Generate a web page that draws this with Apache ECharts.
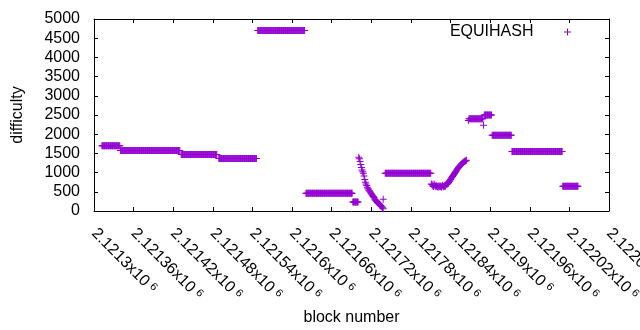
<!DOCTYPE html>
<html>
<head>
<meta charset="utf-8">
<script src="https://cdn.jsdelivr.net/npm/echarts@6/dist/echarts.min.js"></script>
<style>
    body {margin: 0; background: #fff;}
    #main {width: 640px; height: 330px;}
</style>
</head>
<body>
<div id="main"></div>
<script>
    var blockBase = 2121300;
    /*flat stretches: first block, last block (offset from blockBase), difficulty*/
    var runStart = [12, 40, 132, 189, 248, 321, 392, 441, 568, 591, 603, 633, 710];
    var runEnd   = [39, 130, 186, 246, 319, 391, 400, 510, 589, 602, 632, 709, 733];
    var runValue = [1700, 1575, 1470, 1370, 4700, 465, 235, 985, 2400, 2500, 1975, 1550, 645];
    /*the drop after the 235 stretch, one value per block from curveStart*/
    var curveStart = 401;
    var curveValues = [1400, 1360, 1290, 1210, 1130, 1070, 1020, 980, 910, 820,
        750, 700, 665, 620, 580, 550, 525, 500, 475, 450,
        420, 395, 375, 350, 315, 285, 265, 245, 230, 210,
        195, 180, 160, 145, 125, 110, 85, 60];
    /*the dip and the climb back, one value per block from dipStart*/
    var dipStart = 511;
    var dipValues = [700, 690, 660, 640, 700, 670, 650, 630, 660, 640,
        620, 650, 630, 660, 640, 620, 650, 670, 640, 630,
        660, 640, 680, 700, 700, 715, 740, 765, 790, 820,
        850, 875, 900, 925, 950, 975, 1000, 1030, 1060, 1085,
        1110, 1130, 1150, 1170, 1190, 1210, 1230, 1245, 1260, 1275,
        1290, 1300, 1310, 1320];
    /*single blocks off the stretches*/
    var strayBlocks = [438, 567, 590];
    var strayValues = [305, 2360, 2230];
    /*x tick labels, mantissa and power of ten*/
    var xTickLabels = ['2.1213', '2.12136', '2.12142', '2.12148', '2.12154', '2.1216', '2.12166',
        '2.12172', '2.12178', '2.12184', '2.1219', '2.12196', '2.12202', '2.12208'];
    var xTickPower = '6';

    var xMin = 2121300, xMax = 2122080, xStep = 60;
    var font = 'Liberation Sans';
    var plus = 'path://M3,0H4V3H7V4H4V7H3V4H0V3H3Z';

    function buildPoints() {
        var pts = [];
        for (var i = 0; i < runStart.length; i++) {
            for (var b = runStart[i]; b <= runEnd[i]; b++) {
                pts.push([blockBase + b, runValue[i]]);
            }
        }
        for (var j = 0; j < curveValues.length; j++) {
            pts.push([blockBase + curveStart + j, curveValues[j]]);
        }
        for (var k = 0; k < dipValues.length; k++) {
            pts.push([blockBase + dipStart + k, dipValues[k]]);
        }
        for (var s = 0; s < strayBlocks.length; s++) {
            pts.push([blockBase + strayBlocks[s], strayValues[s]]);
        }
        return pts;
    }

    var blackLine = {show: true, onZero: false, lineStyle: {color: '#000', width: 1}};
    var innerTick = {show: true, inside: true, length: 4, lineStyle: {color: '#000', width: 1}};

    var myChart = echarts.init(document.getElementById('main'));
    var option = {
        animation: false,
        backgroundColor: '#fff',
        grid: {left: 94, right: 31, top: 19, bottom: 119, containLabel: false, outerBoundsMode: 'none'},
        legend: {
            right: 64,
            top: 19,
            align: 'right',
            icon: plus,
            itemWidth: 58,
            itemHeight: 7,
            symbolKeepAspect: true,
            textStyle: {fontFamily: font, fontSize: 16, color: '#000'},
            data: ['EQUIHASH']
        },
        xAxis: [{
            type: 'value',
            position: 'bottom',
            min: xMin,
            max: xMax,
            interval: xStep,
            axisLine: blackLine,
            axisTick: innerTick,
            splitLine: {show: false},
            axisLabel: {
                rotate: -45,
                margin: 20,
                showMinLabel: true,
                showMaxLabel: true,
                hideOverlap: false,
                formatter: function (v) {
                    var idx = Math.round((v - xMin) / xStep);
                    return '{a|' + xTickLabels[idx] + 'x10}{s|' + xTickPower + '}';
                },
                rich: {
                    a: {fontFamily: font, fontSize: 16, color: '#000'},
                    s: {fontFamily: font, fontSize: 11, color: '#000', verticalAlign: 'top', padding: [0, 0, 0, 4]}
                }
            },
            name: 'block number',
            nameLocation: 'middle',
            nameGap: 97,
            nameTextStyle: {fontFamily: font, fontSize: 16, color: '#000'}
        }, {
            type: 'value',
            position: 'top',
            min: xMin,
            max: xMax,
            interval: xStep,
            axisLine: blackLine,
            axisTick: innerTick,
            axisLabel: {show: false},
            splitLine: {show: false}
        }],
        yAxis: [{
            type: 'value',
            position: 'left',
            min: 0,
            max: 5000,
            interval: 500,
            axisLine: blackLine,
            axisTick: innerTick,
            splitLine: {show: false},
            axisLabel: {
                margin: 14, fontFamily: font, fontSize: 16, color: '#000',
                formatter: function (v) { return String(v); }
            },
            name: 'difficulty',
            nameLocation: 'middle',
            nameGap: 68,
            nameTextStyle: {fontFamily: font, fontSize: 16, color: '#000'}
        }, {
            type: 'value',
            position: 'right',
            min: 0,
            max: 5000,
            interval: 500,
            axisLine: blackLine,
            axisTick: innerTick,
            axisLabel: {show: false},
            splitLine: {show: false}
        }],
        series: [{
            name: 'EQUIHASH',
            type: 'scatter',
            symbol: plus,
            symbolSize: 7,
            itemStyle: {color: '#9400d3', opacity: 1},
            data: buildPoints()
        }]
    };
    myChart.setOption(option);
</script>
</body>
</html>
